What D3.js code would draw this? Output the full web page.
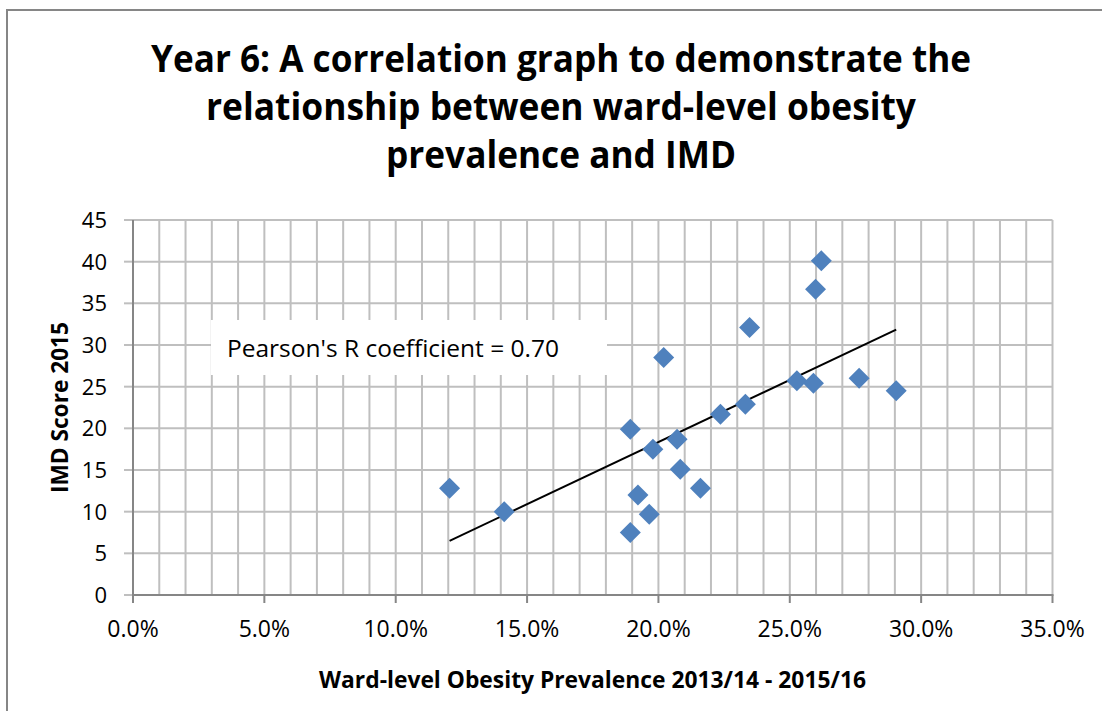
<!DOCTYPE html>
<html><head><meta charset="utf-8">
<script src="https://cdn.jsdelivr.net/npm/d3@7"></script>
<style>html,body{margin:0;padding:0;background:#fff;}svg{display:block;}</style>
</head><body>
<svg id="c" width="1102" height="711"></svg>
<script>
// ---- data ----
const obesityPct = [12.05,14.13,18.93,18.93,19.22,19.65,19.79,20.2,20.71,20.83,21.6,22.36,23.31,23.47,25.27,25.9,25.98,26.2,27.64,29.05];
const imdScore   = [12.8,10.0,19.9,7.5,12.0,9.7,17.5,28.5,18.7,15.1,12.8,21.7,22.9,32.1,25.7,25.4,36.7,40.1,26.0,24.5];
const xTicks = [0,5,10,15,20,25,30,35];
const xMinorTicks = d3.range(0,36,1);
const yTicks = [0,5,10,15,20,25,30,35,40,45];
const titleLines = ["Year 6: A correlation graph to demonstrate the","relationship between ward-level obesity","prevalence and IMD"];
const annotation = "Pearson's R coefficient = 0.70";
const xTitle = "Ward-level Obesity Prevalence 2013/14 - 2015/16";
const yTitle = "IMD Score 2015";

const svg = d3.select("#c");
const FONT = "'Open Sans', 'Liberation Sans', sans-serif";
function fit(sel, w){ const n=sel.node(); const L=n.getComputedTextLength(); if(Math.abs(L-w)>1){sel.attr("textLength",w).attr("lengthAdjust","spacingAndGlyphs");} return sel; }

// outer border
svg.append("rect").attr("x",7).attr("y",10).attr("width",1102).attr("height",711)
  .attr("fill","#fff").attr("stroke","#868686").attr("stroke-width",2);

const x = d3.scaleLinear().domain([0,35]).range([133,1052.5]);
const y = d3.scaleLinear().domain([0,45]).range([595,220]);

// gridlines
const g = svg.append("g");
g.selectAll(".vg").data(xMinorTicks.filter(d=>d>0)).join("line")
  .attr("x1",d=>x(d)).attr("x2",d=>x(d)).attr("y1",y(45)).attr("y2",y(0))
  .attr("stroke","#bfbfbf").attr("stroke-width",2);
g.selectAll(".hg").data(yTicks.filter(d=>d>0)).join("line")
  .attr("x1",x(0)).attr("x2",x(35)).attr("y1",d=>y(d)).attr("y2",d=>y(d))
  .attr("stroke","#bfbfbf").attr("stroke-width",2);

// y ticks (left of axis)
g.selectAll(".yt").data(yTicks).join("line")
  .attr("x1",124).attr("x2",x(0)).attr("y1",d=>y(d)).attr("y2",d=>y(d))
  .attr("stroke","#bfbfbf").attr("stroke-width",2);
// x ticks
g.selectAll(".xt").data(xTicks).join("line")
  .attr("x1",d=>x(d)).attr("x2",d=>x(d)).attr("y1",y(0)).attr("y2",603)
  .attr("stroke","#868686").attr("stroke-width",2);
// axes lines
g.append("line").attr("x1",x(0)).attr("x2",x(0)).attr("y1",y(45)).attr("y2",y(0)+1)
  .attr("stroke","#868686").attr("stroke-width",2);
g.append("line").attr("x1",x(0)).attr("x2",x(35)+1).attr("y1",y(0)).attr("y2",y(0))
  .attr("stroke","#868686").attr("stroke-width",2);

// tick labels
svg.append("g").selectAll("text").data(yTicks).join("text")
  .attr("x",107).attr("y",d=>y(d)).attr("dy","0.36em").attr("text-anchor","end")
  .attr("font-family",FONT).attr("font-size",22).attr("fill","#000").text(d=>d);
svg.append("g").selectAll("text").data(xTicks).join("text")
  .attr("x",d=>x(d)).attr("y",637).attr("text-anchor","middle")
  .attr("font-family",FONT).attr("font-size",23).attr("fill","#000").text(d=>d.toFixed(1)+"%");

// annotation box
svg.append("rect").attr("x",211).attr("y",320).attr("width",396).attr("height",55).attr("fill","#fff");
fit(svg.append("text").attr("x",227).attr("y",357).attr("font-family",FONT).attr("font-size",23)
  .attr("fill","#000").text(annotation),332);

// trendline (least squares from data)
const mx=d3.mean(obesityPct), my=d3.mean(imdScore);
let sxy=0,sxx=0; obesityPct.forEach((v,i)=>{sxy+=(v-mx)*(imdScore[i]-my); sxx+=(v-mx)*(v-mx);});
const slope=sxy/sxx, icpt=my-slope*mx;
const [x0,x1]=d3.extent(obesityPct);
svg.append("line").attr("x1",x(x0)).attr("y1",y(icpt+slope*x0)).attr("x2",x(x1)).attr("y2",y(icpt+slope*x1))
  .attr("stroke","#000").attr("stroke-width",2);

// points
const sym = d3.symbol().type(d3.symbolSquare).size(220);
svg.append("g").selectAll("path").data(obesityPct.map((v,i)=>[v,imdScore[i]])).join("path")
  .attr("d",sym).attr("transform",d=>`translate(${x(d[0])},${y(d[1])}) rotate(45)`)
  .attr("fill","#4f81bd");

// title
const tw=[820,710,350], tb=[72,120,168];
titleLines.forEach((t,i)=>{
  fit(svg.append("text").attr("x",561).attr("y",tb[i]).attr("text-anchor","middle")
    .attr("font-family",FONT).attr("font-weight","bold").attr("font-size",37).attr("fill","#000").text(t),tw[i]);
});

// axis titles
fit(svg.append("text").attr("x",592.5).attr("y",688).attr("text-anchor","middle")
  .attr("font-family",FONT).attr("font-weight","bold").attr("font-size",24).attr("fill","#000").text(xTitle),547);
fit(svg.append("text").attr("transform","translate(68,407.5) rotate(-90)").attr("text-anchor","middle")
  .attr("font-family",FONT).attr("font-weight","bold").attr("font-size",24).attr("fill","#000").text(yTitle),171);
</script>
</body></html>
